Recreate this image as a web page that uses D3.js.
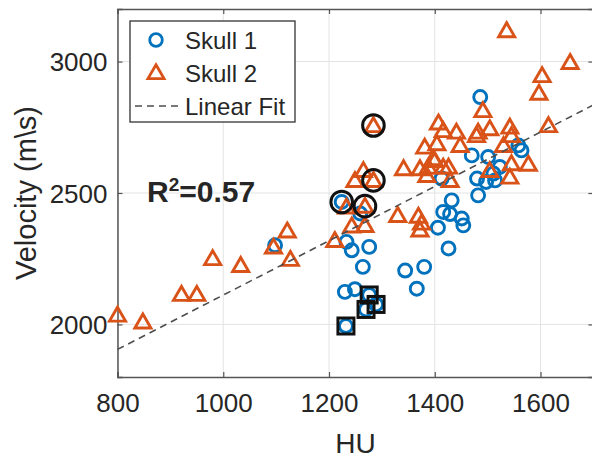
<!DOCTYPE html>
<html>
<head>
<meta charset="utf-8">
<script src="https://cdn.jsdelivr.net/npm/d3@7"></script>
<style>
  body { margin: 0; background: #fff; }
  svg text { font-family: "Liberation Sans", Arial, sans-serif; fill: #262626; }
</style>
</head>
<body>
<svg id="chart" width="592" height="463"></svg>
<script>
// Skull 1 (blue circles)
var skull1HU = [1098, 1224, 1259, 1233, 1243, 1276, 1264, 1344, 1380, 1366, 1230, 1249,
                1406, 1426, 1416, 1429, 1451, 1454, 1432, 1413, 1482, 1480, 1497, 1514,
                1511, 1523, 1501, 1470, 1558, 1564, 1486,
                1232, 1276, 1270, 1289];
var skull1V  = [2301, 2466, 2422, 2314, 2282, 2295, 2219, 2205, 2219, 2136, 2124, 2134,
                2368, 2289, 2428, 2420, 2403, 2377, 2472, 2555, 2491, 2555, 2542, 2548,
                2574, 2599, 2637, 2643, 2681, 2662, 2865,
                1994, 2112, 2057, 2076];
// Skull 2 (orange triangles)
var skull2HU = [800, 848, 921, 950, 980, 1033, 1095, 1121, 1127, 1211, 1243, 1268,
                1330, 1369, 1375, 1372, 1233, 1268, 1284, 1284, 1249, 1265, 1341, 1372,
                1388, 1416, 1385, 1400, 1381, 1404, 1407, 1416, 1441, 1448, 1479, 1491,
                1504, 1530, 1542, 1545, 1504, 1545, 1577, 1542, 1426, 1429, 1536, 1656,
                1603, 1597, 1615, 1482, 1397];
var skull2V  = [2036, 2010, 2115, 2115, 2251, 2225, 2295, 2356, 2248, 2320, 2375, 2377,
                2415, 2412, 2386, 2360, 2447, 2450, 2548, 2757, 2548, 2586, 2593, 2593,
                2599, 2599, 2567, 2624, 2675, 2688, 2767, 2738, 2732, 2681, 2719, 2814,
                2745, 2681, 2751, 2719, 2586, 2612, 2610, 2561, 2599, 2548, 3118, 2997,
                2947, 2880, 2757, 2732, 2631];
// highlighted points
var circledHU = [1224, 1268, 1284, 1284];
var circledV  = [2466, 2450, 2548, 2757];
var squaredHU = [1232, 1276, 1270, 1289];
var squaredV  = [1994, 2112, 2057, 2076];
// linear fit end points
var fitHU = [800, 1700];
var fitV  = [1905, 2835];

var xTicks = [800, 1000, 1200, 1400, 1600];
var yTicks = [2000, 2500, 3000];

var svg = d3.select("#chart");
var pL = 117.5, pR = 593.4, pT = 9, pB = 377;

var x = d3.scaleLinear().domain([800, 1700]).range([pL, pR]);
var y = d3.scaleLinear().domain([1800, 3200]).range([pB, pT]);

var blue = "#0072BD", orange = "#D95319";

// grid
svg.append("g").selectAll("line").data(xTicks).enter().append("line")
  .attr("x1", d => x(d)).attr("x2", d => x(d)).attr("y1", pT).attr("y2", pB)
  .attr("stroke", "#e3e3e3").attr("stroke-width", 1);
svg.append("g").selectAll("line").data(yTicks).enter().append("line")
  .attr("x1", pL).attr("x2", pR).attr("y1", d => y(d)).attr("y2", d => y(d))
  .attr("stroke", "#e3e3e3").attr("stroke-width", 1);

// axes (ticks inside)
var fmt = d3.format("d");
var xAxis = d3.axisBottom(x).tickValues(xTicks).tickSize(-5).tickPadding(17).tickFormat(fmt);
var yAxis = d3.axisLeft(y).tickValues(yTicks).tickSize(-5).tickPadding(10).tickFormat(fmt);
var gx = svg.append("g").attr("transform", "translate(0," + pB + ")").call(xAxis);
var gy = svg.append("g").attr("transform", "translate(" + pL + ",0)").call(yAxis);
svg.append("g").attr("transform", "translate(0," + pT + ")")
  .call(d3.axisTop(x).tickValues(xTicks).tickSize(-5).tickFormat(""));
svg.append("g").attr("transform", "translate(" + pR + ",0)")
  .call(d3.axisRight(y).tickValues(yTicks).tickSize(-5).tickFormat(""));
svg.selectAll(".domain").attr("stroke", "#555").attr("stroke-width", 1.5);
svg.selectAll(".tick line").attr("stroke", "#555").attr("stroke-width", 1.2);
gx.selectAll("text").attr("font-size", 26).attr("font-family", "Liberation Sans, Arial").attr("fill", "#262626");
gy.selectAll("text").attr("font-size", 26).attr("font-family", "Liberation Sans, Arial").attr("fill", "#262626").attr("dy", "0.36em");

// axis labels
svg.append("text").attr("x", (pL + pR) / 2).attr("y", 453)
  .attr("text-anchor", "middle").attr("font-size", 28).text("HU");
svg.append("text").attr("transform", "translate(36," + ((pT + pB) / 2) + ") rotate(-90)")
  .attr("text-anchor", "middle").attr("font-size", 29).text("Velocity (m\\s)");

// markers
var tri = d3.symbol().type(d3.symbolTriangle).size(112);
var plot = svg.append("g");

plot.selectAll("circle.s1").data(skull1HU).enter().append("circle")
  .attr("class", "s1")
  .attr("cx", d => x(d)).attr("cy", (d, i) => y(skull1V[i])).attr("r", 6.5)
  .attr("fill", "none").attr("stroke", blue).attr("stroke-width", 2.9);

plot.selectAll("path.s2").data(skull2HU).enter().append("path")
  .attr("class", "s2")
  .attr("d", tri)
  .attr("transform", (d, i) => "translate(" + x(d) + "," + (y(skull2V[i]) + 1.5) + ")")
  .attr("fill", "none").attr("stroke", orange).attr("stroke-width", 2.9)
  .attr("stroke-linejoin", "miter");

// fit line
plot.append("line")
  .attr("x1", x(fitHU[0])).attr("y1", y(fitV[0]))
  .attr("x2", x(fitHU[1])).attr("y2", y(fitV[1]))
  .attr("stroke", "#4d4d4d").attr("stroke-width", 1.6).attr("stroke-dasharray", "7,5");

// highlights
plot.selectAll("circle.hl").data(circledHU).enter().append("circle")
  .attr("class", "hl")
  .attr("cx", d => x(d)).attr("cy", (d, i) => y(circledV[i])).attr("r", 10.8)
  .attr("fill", "none").attr("stroke", "#111").attr("stroke-width", 3);
plot.selectAll("rect.hl").data(squaredHU).enter().append("rect")
  .attr("class", "hl")
  .attr("x", d => x(d) - 8).attr("y", (d, i) => y(squaredV[i]) - 8)
  .attr("width", 16).attr("height", 16)
  .attr("fill", "none").attr("stroke", "#111").attr("stroke-width", 3);

// R^2 label
var r2 = svg.append("text").attr("x", 147).attr("y", 202)
  .attr("font-size", 30).attr("font-weight", "bold").attr("fill", "#000");
r2.append("tspan").text("R");
r2.append("tspan").attr("font-size", 19).attr("dy", -11).text("2");
r2.append("tspan").attr("dy", 11).text("=0.57");

// legend
var lg = svg.append("g");
lg.append("rect").attr("x", 130).attr("y", 21).attr("width", 165).attr("height", 101)
  .attr("fill", "#fff").attr("stroke", "#333").attr("stroke-width", 1.3);
lg.append("circle").attr("cx", 156).attr("cy", 40).attr("r", 6.3)
  .attr("fill", "none").attr("stroke", blue).attr("stroke-width", 2.8);
lg.append("path").attr("d", tri).attr("transform", "translate(156,74)")
  .attr("fill", "none").attr("stroke", orange).attr("stroke-width", 2.8);
lg.append("line").attr("x1", 135).attr("x2", 182).attr("y1", 106).attr("y2", 106)
  .attr("stroke", "#4d4d4d").attr("stroke-width", 1.5).attr("stroke-dasharray", "7,5");
var labels = ["Skull 1", "Skull 2", "Linear Fit"];
var ly = [40, 73, 106];
lg.selectAll("text").data(labels).enter().append("text")
  .attr("x", 185).attr("y", (d, i) => ly[i]).attr("dy", "0.36em")
  .attr("font-size", 24).attr("fill", "#000").text(d => d);
</script>
</body>
</html>
